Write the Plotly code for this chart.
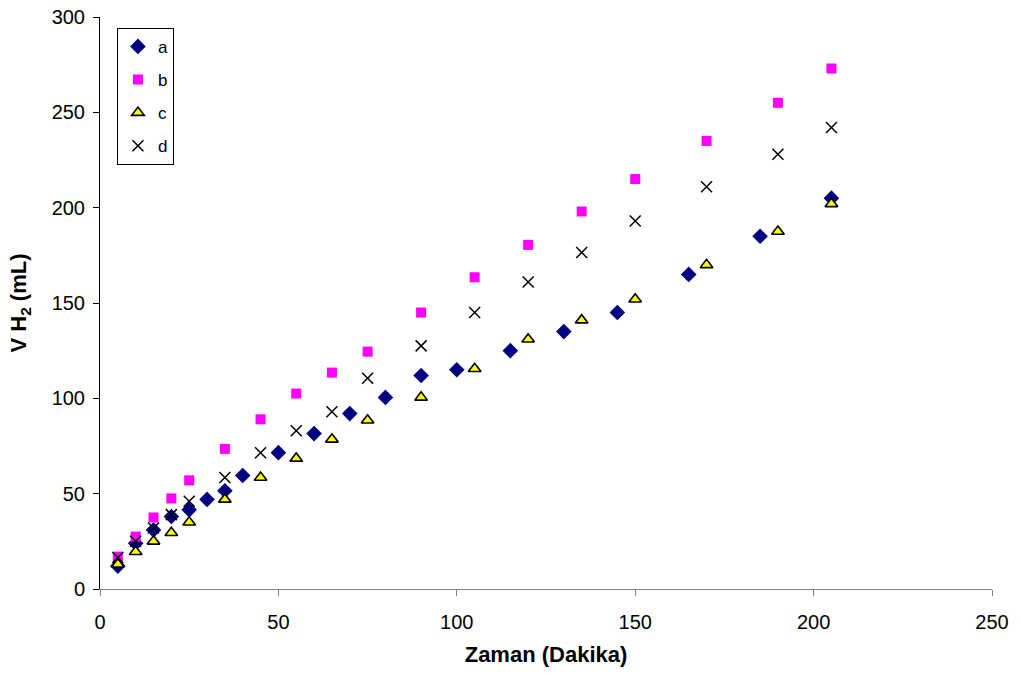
import plotly.graph_objects as go

# Hidrojen hacmi ölçümleri (mL) – zamana (dakika) göre
t_a = [5, 10, 15, 20, 25, 30, 35, 40, 50, 60, 70, 80, 90, 100, 115, 130, 145, 165, 185, 205]
v_a = [12, 24, 31, 38, 41.5, 47, 51.5, 59.5, 71.5, 81.5, 92, 100.5, 112, 115, 125, 135, 145, 165, 185, 205]

t_b = [5, 10, 15, 20, 25, 35, 45, 55, 65, 75, 90, 105, 120, 135, 150, 170, 190, 205]
v_b = [17, 27.5, 37.5, 47.5, 57, 73.5, 89, 102.5, 113.5, 124.5, 145, 163.5, 180.5, 198, 215, 235, 255, 273]

t_c = [5, 10, 15, 20, 25, 35, 45, 55, 65, 75, 90, 105, 120, 135, 150, 170, 190, 205]
v_c = [13, 19.5, 25, 29.5, 35, 47, 58.5, 68.5, 78.5, 88.5, 100.5, 115.5, 131, 141, 152, 170, 187.5, 202]

t_d = [5, 10, 15, 20, 25, 35, 45, 55, 65, 75, 90, 105, 120, 135, 150, 170, 190, 205]
v_d = [16.5, 25, 32, 39, 46, 58.5, 71.5, 83, 93, 110.5, 127.5, 145, 161, 176.5, 193, 211, 228, 242]

x_ticks = [0, 50, 100, 150, 200, 250]
y_ticks = [0, 50, 100, 150, 200, 250, 300]

FONT = "Liberation Sans, Arial, sans-serif"

fig = go.Figure()
fig.add_trace(go.Scatter(
    x=t_a, y=v_a, mode="markers", name="a", legendgroup="a",
    marker=dict(symbol="diamond", size=12, color="#000080",
                line=dict(width=0)),
))
fig.add_trace(go.Scatter(
    x=t_b, y=v_b, mode="markers", name="b", legendgroup="b",
    marker=dict(symbol="square", size=10, color="#FF00FF",
                line=dict(width=0)),
))
fig.add_trace(go.Scatter(
    x=t_c, y=v_c, mode="markers", name="c", legendgroup="c",
    marker=dict(symbol="triangle-up", size=11, color="#FFFF00",
                line=dict(width=1.6, color="#000000")),
))
fig.add_trace(go.Scatter(
    x=t_d, y=v_d, mode="markers", name="d", legendgroup="d",
    marker=dict(symbol="x-thin", size=11, color="#000000",
                line=dict(width=1.5, color="#000000")),
))

fig.update_layout(
    width=1021, height=675,
    margin=dict(l=100, r=29, t=17, b=86, autoexpand=False),
    paper_bgcolor="white", plot_bgcolor="white",
    font=dict(family=FONT, size=20, color="#000000"),
    showlegend=True,
    legend=dict(
        x=0.019, y=0.981, xanchor="left", yanchor="top",
        bgcolor="white", bordercolor="#000000", borderwidth=1,
        font=dict(family=FONT, size=17, color="#000000"),
        traceorder="grouped", tracegroupgap=8,
    ),
    xaxis=dict(
        range=[0, 250], tickvals=x_ticks, ticktext=[str(v) for v in x_ticks],
        showgrid=False, zeroline=False, automargin=False,
        showline=True, linecolor="#808080", linewidth=1,
        ticks="outside", ticklen=6, tickcolor="#808080",
        ticklabelstandoff=9,
        tickfont=dict(family=FONT, size=20),
        title=dict(text="<b>Zaman (Dakika)</b>", font=dict(family=FONT, size=22),
                   standoff=14),
    ),
    yaxis=dict(
        range=[0, 300], tickvals=y_ticks, ticktext=[str(v) for v in y_ticks],
        showgrid=False, zeroline=False, automargin=False,
        showline=True, linecolor="#000000", linewidth=1,
        ticks="outside", ticklen=6, tickcolor="#000000",
        ticklabelstandoff=4,
        tickfont=dict(family=FONT, size=20),
        title=dict(text="<b>V H<sub>2</sub> (mL)</b>", font=dict(family=FONT, size=22),
                   standoff=18),
    ),
)

fig.write_html("out.html")
